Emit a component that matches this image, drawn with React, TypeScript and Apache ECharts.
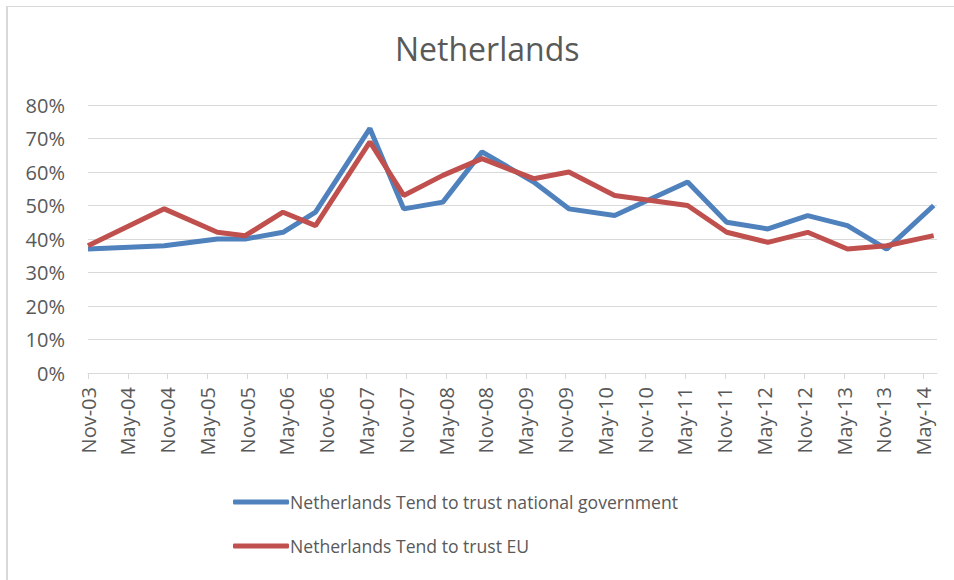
import React, { useEffect, useRef } from "react";
import * as echarts from "echarts";

// months since Nov-2003
const months = [0, 11.5, 19.5, 23.7, 29.4, 34.3, 42.5, 47.6, 53.5, 59.4, 67.2, 72.5, 79.4, 90.4, 96.3, 102.5, 108.5, 114.5, 120.4, 127.5];
const trustGov = [37, 38, 40, 40, 42, 48, 73, 49, 51, 66, 57, 49, 47, 57, 45, 43, 47, 44, 37, 50];
const trustEU = [38, 49, 42, 41, 48, 44, 69, 53, 59, 64, 58, 60, 53, 50, 42, 39, 42, 37, 38, 41];
const tickLabels = [
  "Nov-03", "May-04", "Nov-04", "May-05", "Nov-05", "May-06", "Nov-06", "May-07",
  "Nov-07", "May-08", "Nov-08", "May-09", "Nov-09", "May-10", "Nov-10", "May-11",
  "Nov-11", "May-12", "Nov-12", "May-13", "Nov-13", "May-14",
];
const tickValues = tickLabels.map((_, i) => i * 6);
const seriesNames = ["Netherlands Tend to trust national government", "Netherlands Tend to trust EU"];

const FONT = "'Open Sans', sans-serif";
const TXT = "#595959";

export default function App() {
  const ref = useRef<HTMLDivElement>(null);
  useEffect(() => {
    const chart = echarts.init(ref.current!, null, { renderer: "svg" });
    chart.setOption({
      animation: false,
      backgroundColor: "#fff",
      title: {
        text: "Netherlands",
        left: 390,
        top: 27,
        textStyle: { fontFamily: FONT, fontSize: 32, fontWeight: "normal", color: TXT },
      },
      legend: {
        orient: "vertical",
        left: 228,
        top: 488,
        itemGap: 26,
        itemWidth: 56,
        itemHeight: 5,
        icon: "roundRect",
        textStyle: { fontFamily: FONT, fontSize: 17.6, color: TXT, padding: [0, 0, 0, -4] },
        data: seriesNames,
      },
      grid: { left: 88, right: 17, top: 105, bottom: 207, containLabel: false },
      xAxis: {
        type: "value",
        min: 0,
        max: 128,
        interval: 6,
        splitLine: { show: false },
        axisLine: { show: true, lineStyle: { color: "#d9d9d9", width: 1 } },
        axisTick: { show: true, length: 6, lineStyle: { color: "#d9d9d9" }, customValues: tickValues },
        axisLabel: {
          rotate: 90,
          color: TXT,
          fontFamily: FONT,
          fontSize: 20,
          margin: 14,
          customValues: tickValues,
          formatter: (v: number) => tickLabels[Math.round(v / 6)] ?? "",
        },
      },
      yAxis: {
        type: "value",
        min: 0,
        max: 0.8,
        interval: 0.1,
        axisLine: { show: false },
        axisTick: { show: false },
        splitLine: { lineStyle: { color: "#d9d9d9", width: 1 } },
        axisLabel: {
          color: TXT,
          fontFamily: FONT,
          fontSize: 20,
          margin: 23,
          formatter: (v: number) => Math.round(v * 100) + "%",
        },
      },
      graphic: [
        { type: "line", shape: { x1: 7, y1: 6, x2: 7, y2: 580 }, style: { stroke: "#d9d9d9", lineWidth: 2 } },
        { type: "line", shape: { x1: 7, y1: 6.5, x2: 954, y2: 6.5 }, style: { stroke: "#d9d9d9", lineWidth: 1 } },
      ],
      series: [
        {
          name: seriesNames[0],
          type: "line",
          data: months.map((m, i) => [m, trustGov[i] / 100]),
          symbol: "none",
          lineStyle: { color: "#4F81BD", width: 5 },
          itemStyle: { color: "#4F81BD" },
        },
        {
          name: seriesNames[1],
          type: "line",
          data: months.map((m, i) => [m, trustEU[i] / 100]),
          symbol: "none",
          lineStyle: { color: "#C0504D", width: 5 },
          itemStyle: { color: "#C0504D" },
        },
      ],
    });
    return () => chart.dispose();
  }, []);
  return <div ref={ref} style={{ width: 954, height: 580, position: "absolute", left: 0, top: 0 }} />;
}
